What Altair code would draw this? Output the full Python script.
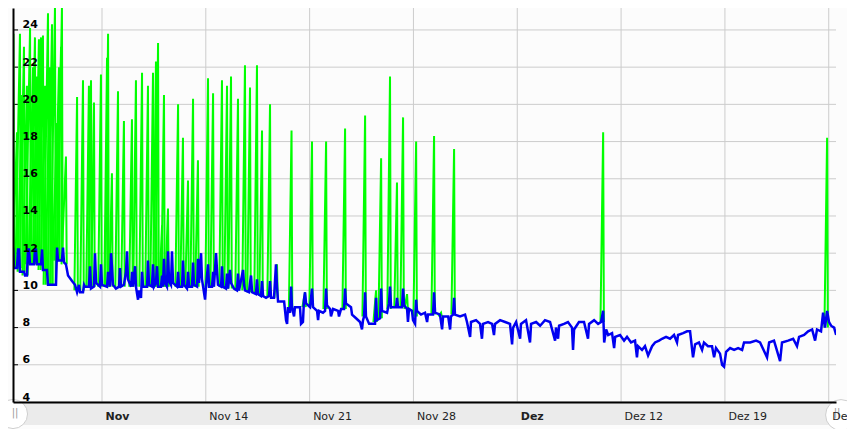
import altair as alt
import pandas as pd

# ---------------- data ----------------
# time axis in days since 1 Nov 2016 00:00

# blue series: (day, value)
blue_points = [
    (0.00,12.3),(0.07,11.2),(0.27,11.2),(0.34,12.2),(0.40,12.2),(0.47,11.0),(0.74,11.0),(0.81,10.8),(0.94,10.8),
    (1.01,12.2),(1.08,12.2),(1.15,11.4),(1.42,11.4),(1.48,12.2),(1.55,12.2),(1.62,11.4),(1.89,11.4),(1.96,12.2),
    (2.02,11.1),(2.29,11.1),(2.36,10.3),(2.90,10.3),(2.97,12.3),(3.03,11.6),(3.30,11.6),(3.37,12.3),(3.44,11.5),
    (3.57,11.4),(3.71,10.8),(3.98,10.5),(4.18,10.3),(4.32,9.9),(4.45,10.3),(4.52,9.9),(4.72,9.9),(4.79,10.3),
    (4.85,10.2),(5.12,10.2),(5.19,11.3),(5.26,10.1),(5.46,10.2),(5.53,12.0),(5.60,10.4),(5.87,10.2),(5.93,11.4),
    (6.00,10.3),(6.34,10.2),(6.41,11.0),(6.54,10.2),(6.61,12.0),(6.67,11.3),(6.74,10.3),(6.94,10.1),(7.15,10.2),
    (7.21,11.2),(7.28,10.2),(7.48,10.3),(7.62,11.0),(7.69,12.1),(7.75,10.6),(7.96,10.2),(8.03,11.0),(8.09,10.2),
    (8.23,11.3),(8.29,10.2),(8.43,9.5),(8.50,10.0),(8.63,9.6),(8.70,11.0),(8.77,10.2),(9.04,10.2),(9.10,11.6),
    (9.17,10.3),(9.37,10.2),(9.44,11.4),(9.51,10.2),(9.64,10.4),(9.71,11.3),(9.78,10.2),(9.98,10.2),(10.05,10.8),
    (10.11,10.2),(10.18,11.7),(10.25,10.4),(10.38,10.2),(10.45,12.1),(10.52,10.5),(10.65,10.3),(10.72,12.1),
    (10.79,10.4),(11.06,10.2),(11.13,11.0),(11.19,10.2),(11.40,10.2),(11.46,11.6),(11.53,10.3),(11.73,10.1),
    (11.80,11.0),(11.87,10.2),(12.07,10.2),(12.14,11.5),(12.20,10.3),(12.41,10.2),(12.47,11.7),(12.54,10.4),
    (12.68,12.0),(12.74,10.6),(12.95,9.5),(13.01,10.2),(13.15,11.4),(13.22,10.2),(13.42,10.2),(13.49,11.0),
    (13.55,10.2),(13.69,12.0),(13.76,11.0),(13.82,10.3),(14.03,10.2),(14.09,11.3),(14.16,10.2),(14.36,10.1),
    (14.43,10.9),(14.50,10.1),(14.63,11.1),(14.70,10.4),(14.90,10.1),(15.10,10.0),(15.17,10.9),(15.24,10.0),
    (15.51,11.1),(15.58,10.3),(15.64,10.0),(15.91,9.9),(15.98,10.4),(16.05,10.8),(16.12,9.9),(16.38,9.8),
    (16.45,10.6),(16.52,9.8),(16.72,9.7),(16.79,10.5),(16.86,9.7),(17.06,9.6),(17.26,9.7),(17.33,10.5),
    (17.40,9.6),(17.60,9.6),(17.73,11.4),(17.80,10.2),(17.87,9.4),(18.28,9.4),(18.41,8.4),(18.48,8.2),
    (18.54,9.1),(18.68,8.8),(18.75,10.2),(18.81,9.1),(18.95,8.6),(19.01,9.1),(19.35,9.1),(19.42,8.2),
    (19.55,8.3),(19.62,9.5),(19.69,9.9),(19.76,9.3),(20.03,9.1),(20.16,10.1),(20.23,9.1),(20.50,8.9),
    (20.57,8.4),(20.63,8.9),(20.90,8.8),(21.04,8.9),(21.11,10.1),(21.17,9.2),(21.38,9.0),(21.44,8.6),
    (21.58,9.0),(21.92,8.9),(21.98,8.6),(22.12,9.0),(22.32,9.0),(22.39,10.1),(22.45,9.3),(22.79,9.1),
    (22.86,8.7),(23.13,8.5),(23.40,8.3),(23.53,7.9),(23.60,8.4),(23.67,8.6),(23.74,9.9),(23.80,8.6),
    (24.01,8.2),(24.41,8.2),(24.48,9.6),(24.54,8.4),(24.75,8.5),(24.82,10.1),(24.88,8.9),(25.22,8.8),
    (25.35,9.3),(25.42,10.2),(25.49,9.1),(25.83,9.1),(25.89,9.6),(25.96,9.1),(26.23,9.1),(26.30,10.1),
    (26.37,9.2),(26.57,9.0),(26.63,8.3),(26.70,9.0),(26.90,8.9),(26.97,8.4),(27.11,8.2),(27.18,9.5),
    (27.24,8.9),(27.51,8.7),(27.78,8.8),(27.92,8.3),(27.98,8.7),(28.32,8.7),(28.39,9.9),(28.46,8.8),
    (28.79,8.7),(28.93,7.9),(29.00,8.6),(29.34,8.6),(29.47,7.9),(29.53,8.6),(29.67,8.7),(29.74,9.6),
    (29.80,8.7),(30.14,8.6),(30.48,8.7),(30.61,8.3),(30.82,7.5),(30.88,8.3),(31.22,8.4),(31.49,8.2),
    (31.62,7.4),(31.69,8.2),(32.03,8.3),(32.30,8.2),(32.43,7.6),(32.50,8.2),(32.84,8.4),(33.18,8.3),
    (33.51,8.2),(33.65,7.1),(33.72,8.0),(33.92,8.3),(34.19,7.4),(34.25,8.2),(34.59,8.4),(34.86,7.2),
    (34.93,8.2),(35.27,8.3),(35.54,8.1),(35.87,8.4),(36.21,8.3),(36.55,7.3),(36.61,8.0),(36.75,7.4),
    (36.82,8.1),(37.15,8.2),(37.42,8.3),(37.69,8.0),(37.76,6.8),(37.83,7.9),(38.16,8.3),(38.50,8.3),
    (38.77,7.4),(38.84,8.2),(39.18,8.4),(39.45,8.2),(39.65,8.3),(39.79,8.9),(39.86,7.2),(39.99,7.9),
    (40.13,7.6),(40.39,7.7),(40.53,6.9),(40.60,7.5),(40.93,7.6),(41.20,7.3),(41.40,7.5),(41.67,7.2),
    (41.94,7.3),(42.07,6.4),(42.14,7.0),(42.41,6.8),(42.61,7.0),(42.82,6.5),(43.09,7.0),(43.29,7.2),
    (43.56,7.3),(43.76,7.4),(44.03,7.5),(44.30,7.4),(44.57,7.6),(44.77,7.2),(44.84,7.6),(45.18,7.7),
    (45.45,7.8),(45.65,7.8),(45.85,6.4),(45.99,7.1),(46.25,7.2),(46.46,6.8),(46.59,7.2),(46.86,7.0),
    (47.13,7.0),(47.27,6.4),(47.40,6.9),(47.67,6.6),(47.81,6.0),(47.94,5.9),(48.08,6.7),(48.35,6.9),
    (48.62,6.8),(48.89,6.9),(49.16,6.8),(49.29,7.2),(49.70,7.2),(50.10,7.3),(50.37,7.2),(50.84,6.4),
    (50.98,7.2),(51.31,7.3),(51.72,6.2),(51.85,7.2),(52.26,7.3),(52.60,7.4),(52.86,7.0),(53.00,7.5),
    (53.34,7.6),(53.61,7.8),(53.88,7.9),(54.08,7.3),(54.21,7.9),(54.48,7.8),(54.62,8.8),(54.75,8.0),
    (54.89,8.9),(55.02,8.3),(55.16,8.1),(55.36,8.0),(55.50,7.6),
]

# green spikes: (peak day, peak value, base value)
green_spikes = [
    (0.03,23.8,11.3),(0.27,18.5,11.2),(0.47,23.8,11.2),(0.61,20.5,11.0),(0.74,23.1,11.0),(0.94,21.0,10.8),
    (1.15,24.1,11.4),(1.35,22.0,11.4),(1.48,23.6,11.4),(1.62,21.5,11.4),(1.75,23.5,11.4),(1.89,23.6,11.4),
    (2.02,23.7,11.1),(2.16,21.0,11.1),(2.36,24.9,10.3),(2.49,22.0,10.3),(2.63,24.3,10.3),(2.83,25.2,10.3),
    (2.97,19.0,11.6),(3.10,22.0,11.6),(3.24,23.1,11.6),(3.30,25.2,11.6),(3.57,17.2,11.4),(4.32,20.4,10.0),
    (4.72,21.3,10.0),(5.12,21.0,10.2),(5.26,21.3,10.2),(5.46,20.1,10.2),(5.93,21.6,10.2),(6.34,22.5,10.2),
    (6.41,23.8,10.2),(6.67,16.3,10.2),(7.08,20.7,10.2),(7.48,19.1,10.2),(8.02,19.2,10.2),(8.29,21.3,10.2),
    (8.70,21.7,10.2),(9.10,21.0,10.2),(9.44,21.7,10.2),(9.64,22.3,10.2),(9.78,23.3,10.2),(10.05,13.5,10.2),
    (10.18,20.5,10.2),(10.45,14.4,10.2),(11.13,20.0,10.2),(11.46,18.2,10.2),(11.80,15.9,10.2),(12.14,20.3,10.2),
    (12.47,17.0,10.2),(13.15,21.4,10.2),(13.49,20.6,10.2),(14.09,21.3,10.2),(14.43,21.0,10.1),(14.70,21.5,10.1),
    (15.17,20.3,10.0),(15.64,22.1,10.0),(15.98,20.9,9.9),(16.45,22.1,9.8),(16.79,18.6,9.7),(17.33,20.0,9.7),
    (17.80,11.4,9.6),(18.78,18.6,9.0),(19.69,9.9,9.1),(20.16,18.0,9.1),(21.11,18.0,9.0),(22.39,18.7,9.0),
    (23.74,19.4,8.6),(24.48,10.0,8.3),(24.82,17.1,8.5),(25.42,21.5,9.0),(25.89,15.8,9.1),(26.30,19.3,9.1),
    (26.57,9.8,9.0),(27.18,18.0,8.6),(28.39,18.3,8.7),(28.86,8.8,8.6),(29.74,17.6,8.7),(39.79,18.5,8.3),
    (54.89,18.2,8.0),
]

y_ticks = [4, 6, 8, 10, 12, 14, 16, 18, 20, 22, 24]
# week ticks (Mondays) in days since 1 Nov 2016 and their labels
x_tick_days = [6, 13, 20, 27, 34, 41, 48, 55]
x_tick_labels = ["Nov", "Nov 14", "Nov 21", "Nov 28", "Dez", "Dez 12", "Dez 19", "Dez 26"]
x_tick_bold = [True, False, False, False, True, False, False, False]
x_domain = [0, 55.49]
y_domain = [4, 25.18]

# ---------------- build tables ----------------
blue_df = pd.DataFrame({"d": [d for d, _ in blue_points], "v": [v for _, v in blue_points]})

rows = []
for i, (d, peak, base) in enumerate(green_spikes):
    rise = 0.3 if d < 3.7 else 0.18
    rows.append({"d": d - rise, "v": base, "s": i})
    rows.append({"d": d, "v": peak, "s": i})
    rows.append({"d": d + 0.05, "v": base, "s": i})
green_df = pd.DataFrame(rows)

xtick_df = pd.DataFrame({"d": x_tick_days})
ytick_df = pd.DataFrame({"v": y_ticks})

label_expr = "".join(f"datum.value == {d} ? '{l}' : " for d, l in zip(x_tick_days, x_tick_labels)) + "''"
bold_test = " || ".join(f"datum.value == {d}" for d, b in zip(x_tick_days, x_tick_bold) if b)

FONT = "DejaVu Sans"

x_axis = alt.Axis(
    values=x_tick_days, labelExpr=label_expr,
    labelAlign="left", labelOffset=3, labelPadding=8, labelBaseline="top",
    ticks=False, grid=False, domainColor="#000000", domainWidth=2,
    labelFont=FONT, labelFontSize=11, labelColor="#222222",
    labelFontWeight={"condition": {"test": bold_test, "value": "bold"}, "value": "normal"},
    labelFlush=False, labelOverlap=False, zindex=1, title=None,
)
y_axis = alt.Axis(
    values=y_ticks, labelAlign="left", labelPadding=-9, labelOffset=-5, labelBaseline="middle",
    ticks=False, grid=False,
    domainColor="#000000", domainWidth=2,
    labelFont=FONT, labelFontSize=11, labelFontWeight="bold", labelColor="#000000",
    labelFlush=False, labelOverlap=False, zindex=1, title=None,
)

X = alt.X("d:Q", scale=alt.Scale(domain=x_domain, nice=False, zero=False), axis=x_axis, title=None)
Y = alt.Y("v:Q", scale=alt.Scale(domain=y_domain, nice=False, zero=False), axis=y_axis, title=None)

one = alt.Data(values=[{}])

band = alt.Chart(one).mark_rect(color="#ebebeb").encode(
    x=alt.value(-5), x2=alt.value(834), y=alt.value(395), y2=alt.value(417)
)

vgrid = alt.Chart(xtick_df).mark_rule(color="#cccccc", strokeWidth=1).encode(x=X)
hgrid = alt.Chart(ytick_df).mark_rule(color="#cccccc", strokeWidth=1).encode(y=Y)

yticks = alt.Chart(ytick_df).mark_rule(color="#000000", strokeWidth=1).encode(
    y=Y, x=alt.value(0), x2=alt.value(5)
)

green = alt.Chart(green_df).mark_line(color="#00ff00", strokeWidth=2, clip=True).encode(
    x=X, y=Y, detail="s:N"
)

blue = alt.Chart(blue_df).mark_line(color="#0000f0", strokeWidth=2.5, clip=True).encode(x=X, y=Y)

btn_left = alt.Chart(one).mark_point(shape="circle", filled=True, fill="#ffffff", stroke="#cfcfcf",
                                     strokeWidth=1, size=850, opacity=1).encode(
    x=alt.value(0), y=alt.value(406)
)
btn_right = alt.Chart(one).mark_point(shape="circle", filled=True, fill="#ffffff", stroke="#cfcfcf",
                                      strokeWidth=1, size=950, opacity=1).encode(
    x=alt.value(828), y=alt.value(407)
)
grip_left = alt.Chart(one).mark_text(text="||", font=FONT, fontSize=10, color="#999999").encode(
    x=alt.value(2), y=alt.value(405)
)
grip_right = alt.Chart(one).mark_text(text="||", font=FONT, fontSize=10, color="#999999").encode(
    x=alt.value(824), y=alt.value(405)
)

chart = alt.layer(
    band, vgrid, hgrid, yticks, green, blue, btn_left, btn_right, grip_left, grip_right
).properties(
    width=823, height=394,
    padding={"left": 5, "top": 0, "right": 11, "bottom": 27},
    autosize=alt.AutoSizeParams(type="none"),
    background="#fcfcfc",
).configure_view(stroke=None)

chart.save("out.html", embed_options={"renderer": "svg", "actions": False})
